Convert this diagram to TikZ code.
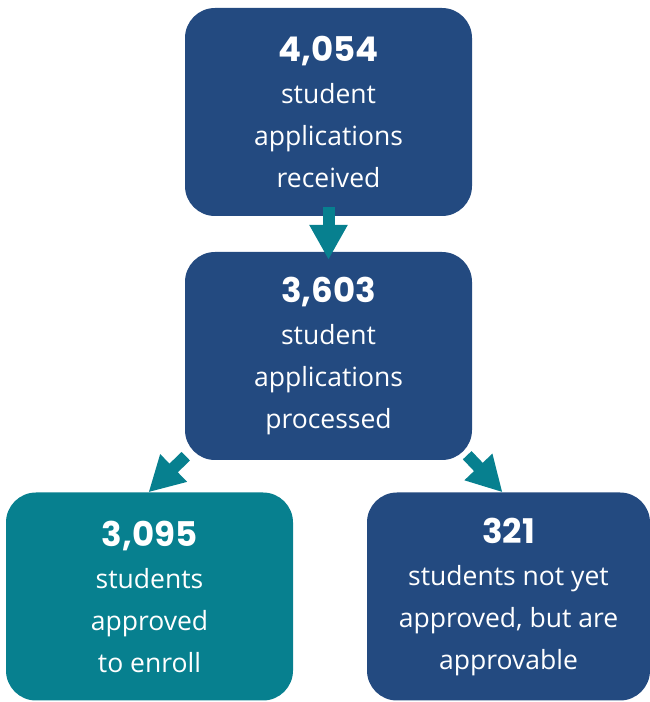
\documentclass[tikz,border=0pt]{standalone}
\usepackage{fontspec}
\setmainfont{Open Sans}
\newfontfamily\numfont{Poppins}
\usetikzlibrary{arrows.meta}
\definecolor{boxblue}{HTML}{234A80}
\definecolor{boxteal}{HTML}{07808F}

\begin{document}
\begin{tikzpicture}[x=1pt,y=1pt,
	stage/.style={fill=#1,rounded corners=30pt,text=white,align=center,
		minimum width=287pt,minimum height=208pt,inner sep=0pt,
		font=\fontsize{26.5}{42}\selectfont},
	flow/.style={draw=boxteal,line width=12pt,
		-{Triangle[width=36pt,length=35pt]}}]
	\useasboundingbox (0,0) rectangle (650,702);
	\node[stage=boxblue] (received) at (328.5,590)
		{{\numfont\bfseries\fontsize{34}{40}\selectfont 4,054}\\student\\applications\\received};
	\node[stage=boxblue] (processed) at (328.5,346)
		{{\numfont\bfseries\fontsize{34}{40}\selectfont 3,603}\\student\\applications\\processed};
	\node[stage=boxteal] (enroll) at (149.5,105.5)
		{{\numfont\bfseries\fontsize{34}{40}\selectfont 3,095}\\students\\approved\\to enroll};
	\node[stage=boxblue,minimum width=283pt] (approvable) at (508.5,105.5)
		{{\numfont\bfseries\fontsize{34}{40}\selectfont 321}\\students not yet\\approved, but are\\approvable};
	\draw[flow,shorten <=-9pt,shorten >=-8pt] (received.south) -- (processed.north);
	\draw[flow] ([shift={(1,4)}]processed.south west) -- ([xshift=-1pt]enroll.north);
	\draw[flow] ([shift={(-5,5)}]processed.south east) -- ([xshift=-6pt]approvable.north);
\end{tikzpicture}
\end{document}
